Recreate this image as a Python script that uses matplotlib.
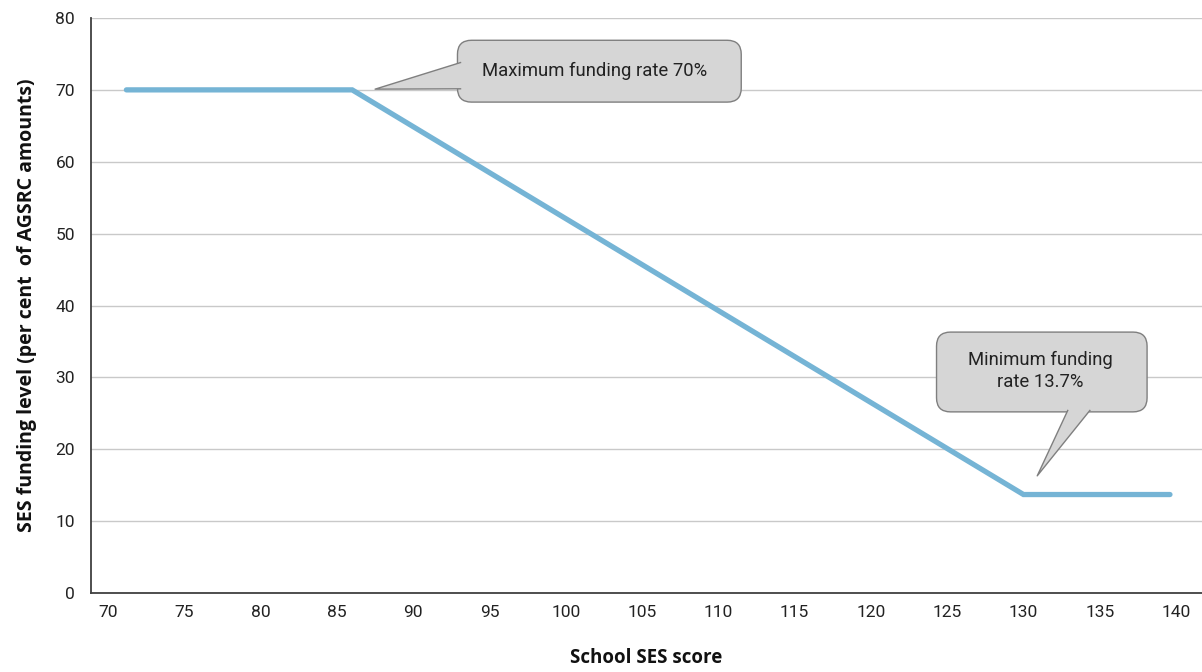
import matplotlib
matplotlib.use("Agg")
import matplotlib.pyplot as plt
from matplotlib.patches import FancyBboxPatch, Polygon
from matplotlib.lines import Line2D

# ---- data ----
ses_score = [71.2, 76.2, 81.2, 86.0, 130.0, 139.6]
funding_level = [70, 70, 70, 70, 13.7, 13.7]
x_ticks = [70, 75, 80, 85, 90, 95, 100, 105, 110, 115, 120, 125, 130, 135, 140]
y_ticks = [0, 10, 20, 30, 40, 50, 60, 70, 80]
max_label = "Maximum funding rate 70%"
min_label = "Minimum funding\nrate 13.7%"

plt.rcParams['font.family'] = ['Roboto', 'DejaVu Sans']

W, H = 1202, 672
fig = plt.figure(figsize=(W / 100, H / 100), dpi=100)
ax = fig.add_axes([91 / W, (H - 593) / H, (W - 91) / W, (593 - 18) / H])

line_color = "#75b4d5"
ax.plot(ses_score, funding_level, color=line_color, lw=3.8, solid_capstyle="round",
        solid_joinstyle="miter", zorder=3)

ax.set_xlim(68.88, 141.7)
ax.set_ylim(0, 80)
ax.set_xticks(x_ticks)
ax.set_yticks(y_ticks)
ax.tick_params(axis="both", length=0, labelsize=12.5, colors="#222222")
ax.tick_params(axis="x", pad=8.5)
ax.tick_params(axis="y", pad=11.5)
ax.yaxis.grid(True, color="#c9c9c9", lw=1.0)
ax.set_axisbelow(True)
for s in ["top", "right"]:
    ax.spines[s].set_visible(False)
for s in ["left", "bottom"]:
    ax.spines[s].set_color("#404040")
    ax.spines[s].set_linewidth(1.3)

ax.set_xlabel("School SES score", fontsize=13.5, fontweight="bold", color="#111111",
              family=["Open Sans", "DejaVu Sans"], labelpad=20)
ax.set_ylabel("SES funding level (per cent  of AGSRC amounts)", fontsize=14,
              fontweight="bold", color="#111111", family=["Open Sans", "DejaVu Sans"],
              labelpad=13)

# ---- callouts ----
fig.canvas.draw()
(x0, y0), (x1, y1) = ax.transData.transform([(0, 0), (1, 1)])
xpp = 1 / (x1 - x0)
ypp = 1 / (y1 - y0)
aspect = ypp / xpp

face = "#d6d6d6"
edge = "#7f7f7f"


def callout(box, base, tip, text, tx, ty):
    bx0, by0, bx1, by1 = box
    r = 14 * xpp
    p = FancyBboxPatch((bx0, by0), bx1 - bx0, by1 - by0,
                       boxstyle=f"round,pad=0,rounding_size={r}",
                       mutation_aspect=aspect, fc=face, ec=edge, lw=1.0, zorder=5)
    ax.add_patch(p)
    (a, b) = base
    poly = Polygon([a, tip, b], closed=False, fc=face, ec="none", zorder=6)
    ax.add_patch(poly)
    ax.add_line(Line2D([a[0], tip[0], b[0]], [a[1], tip[1], b[1]], color=edge, lw=1.0,
                       zorder=7))
    ax.text(tx, ty, text, ha="center", va="center", fontsize=13.3, color="#222222",
            zorder=8, linespacing=1.25)


# maximum callout
callout((92.9, 68.3, 111.5, 76.9),
        ((93.1, 73.8), (93.1, 70.15)), (87.5, 70.1),
        max_label, 101.9, 72.6)
# minimum callout
callout((124.3, 25.2, 138.1, 36.3),
        ((132.9, 25.4), (134.35, 25.4)), (130.9, 16.3),
        min_label, 131.1, 30.9)

fig.savefig("out.png", dpi=100)
